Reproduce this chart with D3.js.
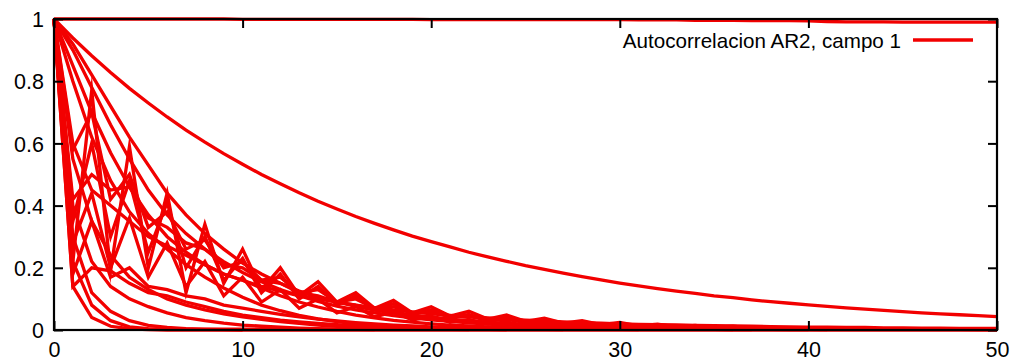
<!DOCTYPE html>
<html>
<head>
<meta charset="utf-8">
<script src="https://cdn.jsdelivr.net/npm/d3@7"></script>
<style>
  html, body { margin: 0; padding: 0; background: #fff; }
  svg { display: block; }
  text { font-family: "Liberation Sans", Arial, sans-serif; fill: #000; }
</style>
</head>
<body>
<svg id="chart" width="1015" height="362"></svg>
<script>
// ---- data ----
const lags = [0,1,2,3,4,5,6,7,8,9,10,11,12,13,14,15,16,17,18,19,20,21,22,23,24,25,26,27,28,29,30,31,32,33,34,35,36,37,38,39,40,41,42,43,44,45,46,47,48,49,50];
const xTicks = [0, 10, 20, 30, 40, 50];
const yTicks = [0, 0.2, 0.4, 0.6, 0.8, 1];
const yTickLabels = ["0", "0.2", "0.4", "0.6", "0.8", "1"];
const legendLabel = "Autocorrelacion AR2, campo 1";

const serTop = [1,1,1,1,1,1,1,1,1,1,.999,.999,.999,.999,.999,.999,.999,.999,.999,.999,.998,.998,.998,.998,.998,.998,.998,.998,.998,.998,.998,.997,.997,.997,.996,.996,.996,.995,.995,.995,.994,.992,.991,.991,.991,.990,.990,.990,.990,.990,.990];
const serSlow = [1,.939,.882,.828,.777,.730,.685,.643,.604,.567,.533,.500,.470,.441,.414,.389,.365,.343,.322,.302,.284,.267,.250,.235,.221,.207,.195,.183,.172,.161,.151,.142,.133,.125,.118,.110,.104,.097,.091,.086,.081,.076,.071,.067,.063,.059,.055,.052,.049,.046,.043];
const serS1 = [1,.92,.82,.72,.62,.53,.44,.37,.31,.26,.215,.18,.15,.125,.105,.09,.076,.064,.054,.045,.038,.032,.027,.023,.019,.016,.013,.011,.009,.008,.006,.005,.004,.004,.003,.003,.002,.002,.002,.001,.001];
const serS2 = [1,.90,.78,.66,.55,.45,.37,.31,.26,.22,.185,.155,.13,.11,.092,.077,.065,.055,.046,.039,.033,.028,.023,.019,.016,.013,.011,.009,.007,.006,.005,.004,.003,.003,.002,.002,.001,.001];
const serS3 = [1,.85,.70,.57,.46,.37,.30,.25,.21,.18,.16,.135,.11,.09,.074,.06,.048,.039,.031,.025,.02,.016,.013,.01,.008,.006,.005,.004,.003,.002,.002,.001];
const serS4 = [1,.80,.62,.48,.38,.31,.26,.21,.17,.135,.105,.08,.062,.047,.036,.027,.02,.015,.011,.008,.006,.004,.003,.002,.001];
const serS5 = [1,.55,.35,.24,.17,.13,.10,.08,.065,.052,.042,.034,.027,.021,.016,.012,.009,.007,.005,.004,.003,.002,.001];
const serS6 = [1,.40,.22,.14,.10,.075,.055,.04,.03,.022,.016,.012,.009,.006,.004,.003,.002,.001];
const serS7 = [1,.30,.12,.06,.03,.015,.008,.004,.002,.001,0];
const serS8 = [1,.14,.04,.012,.004,.001,0,0,0,0,0,0,0,0,0,0,0,0,0,0,0,0,0,0,0,0,0,0,0,0,0,0,0,0,0,0,0,0,0,0,0,0,0,0,0,0,0,0,0,0,0];
const serS9 = [1,.22,.08,.03,.01,.004,.003,.003,.003,.003,.003,.003,.003,.003,.003,.003,.003,.003,.003,.003,.003,.003,.003,.003,.003,.003,.003,.003,.003,.003,.003,.003,.003,.003,.003,.003,.003,.002,.002,.002,.002];
const serZ1 = [1,.22,.77,.19,.59,.20,.44,.12,.34,.15,.26,.13,.20,.11,.155,.09,.12,.07,.095,.055,.075,.045,.06,.035,.048,.028,.038,.022,.03,.017,.024,.013,.019,.01,.015,.008,.012,.006,.009,.005,.007,.004,.005,.003,.004,.002,.003,.002,.002,.001,.001];
const serZ2 = [1,.35,.60,.30,.48,.25,.41,.20,.30,.16,.23,.12,.18,.10,.14,.08,.11,.065,.085,.05,.065,.04,.05,.03,.04,.025,.03,.02,.024,.015,.018,.011,.014,.008,.01,.006,.008,.005,.006,.004,.004,.003,.003,.002,.002];
const serZ3 = [1,.28,.44,.20,.36,.17,.28,.14,.22,.11,.17,.09,.13,.07,.10,.055,.075,.042,.058,.032,.044,.025,.034,.019,.026,.014,.02,.01,.015,.008,.011,.006,.008,.004,.006,.003,.004,.002,.003,.002,.002,.001];
const serZ4 = [1,.58,.70,.42,.50,.33,.38,.26,.29,.20,.22,.16,.17,.12,.13,.09,.10,.07,.075,.055,.058,.042,.044,.032,.034,.024,.026,.018,.02,.014,.015,.01,.011,.008,.008,.006,.006,.004,.004,.003,.003,.002,.002];
const serP1 = [1,.18,.35,.17,.20,.14,.13,.11,.10,.08,.07,.06,.05,.042,.035,.029,.024,.02,.016,.013,.01,.008,.006,.005,.004,.003,.002,.001];
const serP2 = [1,.14,.20,.19,.15,.12,.11,.09,.075,.06,.048,.04,.032,.026,.021,.017,.013,.01,.008,.006,.005,.004,.003,.002,.001];
const serP3 = [1,.42,.50,.45,.46,.36,.33,.28,.26,.21,.20,.16,.15,.12,.11,.09,.08,.066,.058,.048,.042,.035,.03,.025,.021,.017,.014,.012,.01,.008,.006,.005,.004,.003,.002,.002,.001];
const serL1 = [1,.60,.45,.40,.35,.30,.27,.24,.21,.18,.16,.14,.125,.11,.10,.09,.08,.072,.065,.058,.052,.047,.043,.039,.035,.032,.029,.026,.024,.022,.02,.018,.017,.016,.015,.014,.013,.012,.011,.01,.009,.009,.008,.008,.007,.007,.006,.006,.005,.005,.005];

const allSeries = [serTop, serSlow, serS1, serS2, serS3, serS4, serS5, serS6, serS7, serS8, serS9,
                   serZ1, serZ2, serZ3, serZ4, serP1, serP2, serP3, serL1];

// ---- layout ----
const svg = d3.select("#chart");
const x = d3.scaleLinear().domain([0, 50]).range([54, 997]);
const y = d3.scaleLinear().domain([0, 1]).range([330, 19]);
const red = "#f20000";

const line = d3.line()
  .x((d, i) => x(lags[i]))
  .y(d => y(d));

const gLines = svg.append("g");
allSeries.forEach(s => {
  gLines.append("path")
    .datum(s)
    .attr("d", line)
    .attr("fill", "none")
    .attr("stroke", red)
    .attr("stroke-width", 3.3)
    .attr("stroke-linejoin", "miter")
    .attr("stroke-miterlimit", 10);
});

// ---- axes (gnuplot-style, ticks inward on all four sides) ----
const tickLen = 9;
const axB = d3.axisBottom(x).tickValues(xTicks).tickSize(-tickLen).tickFormat(d3.format("d"));
const axT = d3.axisTop(x).tickValues(xTicks).tickSize(-tickLen).tickFormat("");
const axL = d3.axisLeft(y).tickValues(yTicks).tickSize(-tickLen).tickFormat((d, i) => yTickLabels[i]);
const axR = d3.axisRight(y).tickValues(yTicks).tickSize(-tickLen).tickFormat("");

function style(g) {
  g.select(".domain").remove();
  g.selectAll(".tick line").attr("stroke", "#000").attr("stroke-width", 2);
  g.selectAll(".tick text").attr("font-size", 21.5).attr("font-family", "Liberation Sans, Arial, sans-serif").attr("fill", "#000");
}
svg.append("g").attr("transform", "translate(0,330)").call(axB).call(style)
  .selectAll(".tick text").attr("dy", null).attr("y", 27);
svg.append("g").attr("transform", "translate(0,19)").call(axT).call(style);
svg.append("g").attr("transform", "translate(54,0)").call(axL).call(style)
  .selectAll(".tick text").attr("x", -10).attr("dy", "0.36em");
svg.append("g").attr("transform", "translate(997,0)").call(axR).call(style);

// frame
svg.append("rect")
  .attr("x", x(0)).attr("y", y(1))
  .attr("width", x(50) - x(0)).attr("height", y(0) - y(1))
  .attr("fill", "none").attr("stroke", "#000").attr("stroke-width", 2.2);

// ---- legend ----
svg.append("text")
  .attr("x", 901).attr("y", 48)
  .attr("text-anchor", "end")
  .attr("font-size", 20.6)
  .text(legendLabel);
svg.append("line")
  .attr("x1", 913).attr("x2", 973).attr("y1", 40).attr("y2", 40)
  .attr("stroke", red).attr("stroke-width", 3.3);
</script>
</body>
</html>
